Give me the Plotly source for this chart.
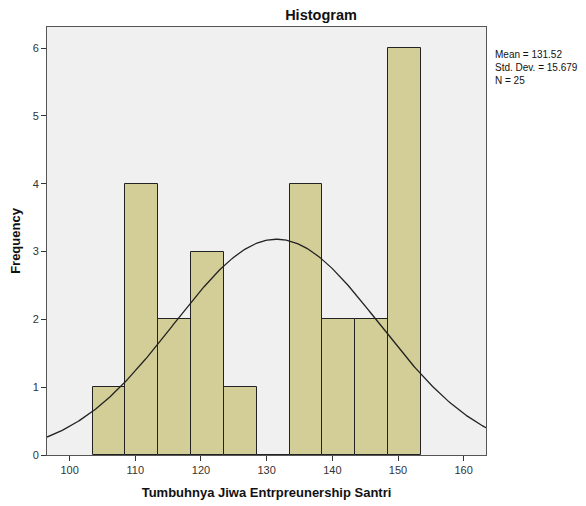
import numpy as np
import plotly.graph_objects as go

bin_centers = [106, 111, 116, 121, 126, 131, 136, 141, 146, 151]
counts = [1, 4, 2, 3, 1, 0, 4, 2, 2, 6]
bin_width = 5
mean = 131.52
std = 15.679
n = 25
x_ticks = [100, 110, 120, 130, 140, 150, 160]
y_ticks = [0, 1, 2, 3, 4, 5, 6]

xr = [96.55, 163.4]
xs = np.linspace(xr[0], xr[1], 300)
ys = n * bin_width / (std * np.sqrt(2 * np.pi)) * np.exp(-0.5 * ((xs - mean) / std) ** 2)

fig = go.Figure()
fig.add_trace(go.Bar(x=bin_centers, y=counts, width=[bin_width] * len(counts),
                     marker=dict(color="#D3CE97", line=dict(color="#222222", width=1)),
                     showlegend=False, hoverinfo="skip"))
fig.add_trace(go.Scatter(x=xs, y=ys, mode="lines", line=dict(color="#222222", width=1.3),
                         showlegend=False, hoverinfo="skip"))

W, H = 578, 498
L, R, T, B = 39, 100, 19, 51
font = "Liberation Sans, Arial, sans-serif"
fig.update_layout(
    width=W, height=H,
    margin=dict(l=L, r=R, t=T, b=B, autoexpand=False),
    paper_bgcolor="white", plot_bgcolor="#F0F0F0",
    font=dict(family=font, color="#222222", size=11),
    bargap=0,
    title=dict(text="<b>Histogram</b>", x=313 / W, xanchor="center", xref="container",
               y=1 - 2 / H, yref="container", yanchor="top", pad=dict(t=0),
               font=dict(size=14.5, color="#111111")),
    xaxis=dict(range=xr, tickvals=x_ticks, ticks="outside", ticklen=5, tickcolor="#333333",
               showgrid=False, zeroline=False, showline=True, linecolor="#555555", mirror=True,
               linewidth=1, tickfont=dict(size=11, color="#333333"), automargin=False,
               title=dict(text="<b>Tumbuhnya Jiwa Entrpreunership Santri</b>",
                          font=dict(size=13, color="#111111"), standoff=12)),
    yaxis=dict(range=[0, 6.31], tickvals=y_ticks, ticks="outside", ticklen=5, tickcolor="#333333",
               showgrid=False, zeroline=False, showline=True, linecolor="#555555", mirror=True,
               linewidth=1, tickfont=dict(size=11, color="#333333"), automargin=False,
               title=dict(text="<b>Frequency</b>", font=dict(size=13, color="#111111"), standoff=10)),
    annotations=[dict(text=f"Mean = {mean}<br>Std. Dev. = {std}<br>N = {n}",
                      xref="paper", yref="paper", x=1.016, y=1 - 20 / 428,
                      xanchor="left", yanchor="top", align="left", showarrow=False,
                      font=dict(size=10, color="#111111"))],
)
fig.write_html("out.html")
